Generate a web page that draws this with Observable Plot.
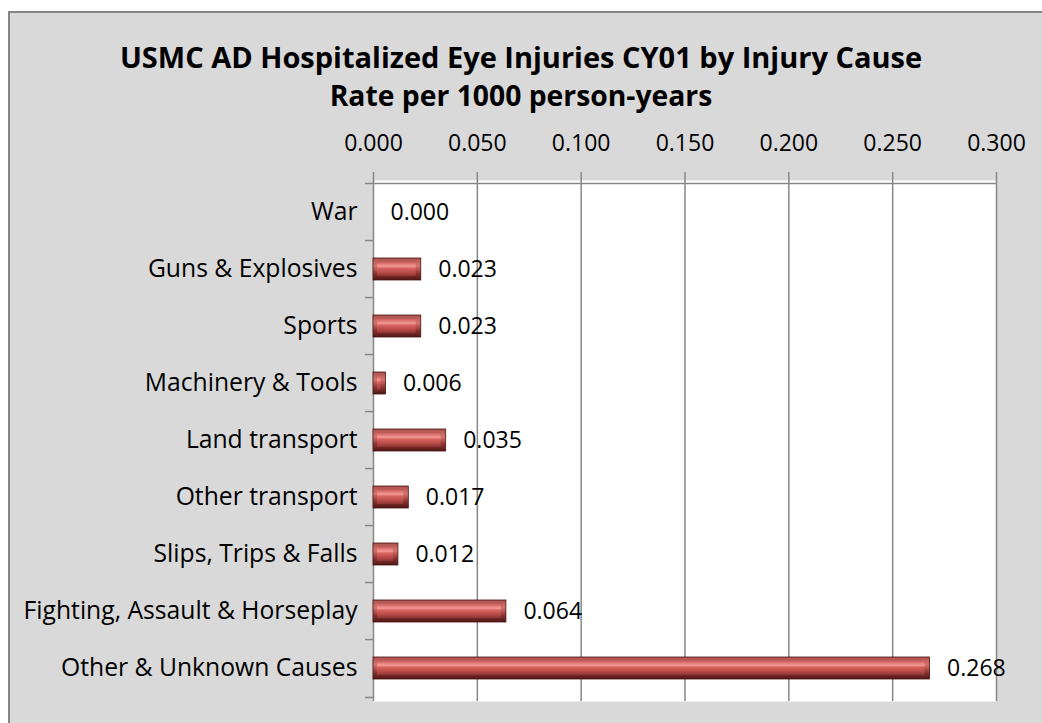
<!DOCTYPE html>
<html><head><meta charset="utf-8">
<script src="https://cdn.jsdelivr.net/npm/d3@7"></script>
<script src="https://cdn.jsdelivr.net/npm/@observablehq/plot@0.6"></script>
<style>
html,body{margin:0;padding:0;background:#fff;overflow:hidden;width:1042px;height:723px;}
#frame{position:absolute;left:8px;top:11px;width:1100px;height:800px;background:#d9d9d9;border-left:2px solid #868686;border-top:2px solid #868686;box-sizing:border-box;}
#title{position:absolute;left:0;top:38px;width:1042px;text-align:center;font:bold 29px/38px "Open Sans";color:#000;}
#title .l2{font-size:28.3px;}
#chart{position:absolute;left:0;top:0;}
</style></head><body>
<div id="frame"></div>
<div id="title"><span class="l1">USMC AD Hospitalized Eye Injuries CY01 by Injury Cause</span><br><span class="l2">Rate per 1000 person-years</span></div>
<div id="chart"></div>
<script>
const causes = ["War","Guns & Explosives","Sports","Machinery & Tools","Land transport","Other transport","Slips, Trips & Falls","Fighting, Assault & Horseplay","Other & Unknown Causes"];
const rates = [0.000,0.023,0.023,0.006,0.035,0.017,0.012,0.064,0.268];
const xTicks = [0,0.05,0.1,0.15,0.2,0.25,0.3];

const data = causes.map((c,i)=>({cause:c, rate:rates[i]}));
const H = 723, W = 1042, mT = 180, mB = 22;
const step = (H - mT - mB) / causes.length;
const fmt = d3.format(".3f");

const plot = Plot.plot({
  width: W, height: H,
  marginLeft: 373, marginRight: 46, marginTop: mT, marginBottom: mB,
  style: {background: "transparent", fontFamily: "Open Sans", fontSize: "23px", color: "#000"},
  x: {domain: [0, 0.3], label: null},
  y: {domain: causes, paddingInner: 0.61, paddingOuter: 0.305, label: null},
  marks: [
    Plot.frame({fill: "white", stroke: null}),
    Plot.ruleX(xTicks, {stroke: "#878787", strokeWidth: 1.5, insetTop: -8}),
    Plot.ruleY([causes[0]], {x1: 0, x2: 0.3, insetLeft: -8, dy: -step/2, stroke: "#878787", strokeWidth: 1.5}),
    Plot.ruleY(causes.slice(1), {x1: 0, x2: 0, insetLeft: -8, dy: -step/2, stroke: "#878787", strokeWidth: 1.5}),
    Plot.ruleY([causes[causes.length-1]], {x1: 0, x2: 0, insetLeft: -8, dy: step/2, stroke: "#878787", strokeWidth: 1.5}),
    Plot.axisX(xTicks, {anchor: "top", tickSize: 0, tickPadding: 30, tickFormat: fmt, fontSize: 23, fill: "#000", label: null}),
    Plot.axisY({tickSize: 0, tickPadding: 16, fontSize: 24.7, fill: "#000", label: null}),
    Plot.barX(data.filter(d => d.rate > 0), {x: "rate", y: "cause", fill: "url(#barOuter)", stroke: "#4a1412", strokeWidth: 0.8}),
    Plot.barX(data.filter(d => d.rate > 0), {x: "rate", y: "cause", fill: "url(#barInner)", insetLeft: 4, insetRight: 5, insetTop: 3, insetBottom: 4}),
    Plot.text(data, {x: "rate", y: "cause", text: d => fmt(d.rate), textAnchor: "start", dx: 17, fontSize: 23, fill: "#000"})
  ]
});

d3.select(plot).insert("defs", ":first-child").html(`
  <linearGradient id="barOuter" x1="0" y1="0" x2="0" y2="1">
    <stop offset="0%" stop-color="#a8504d"/>
    <stop offset="35%" stop-color="#d87470"/>
    <stop offset="70%" stop-color="#8c3331"/>
    <stop offset="100%" stop-color="#4e1816"/>
  </linearGradient>
  <linearGradient id="barInner" x1="0" y1="0" x2="0" y2="1">
    <stop offset="0%" stop-color="#b85350"/>
    <stop offset="22%" stop-color="#e47f7b"/>
    <stop offset="35%" stop-color="#f39995"/>
    <stop offset="48%" stop-color="#d8645f"/>
    <stop offset="70%" stop-color="#c0504d"/>
    <stop offset="100%" stop-color="#8e3532"/>
  </linearGradient>`);

document.getElementById("chart").appendChild(plot);
</script>
</body></html>
